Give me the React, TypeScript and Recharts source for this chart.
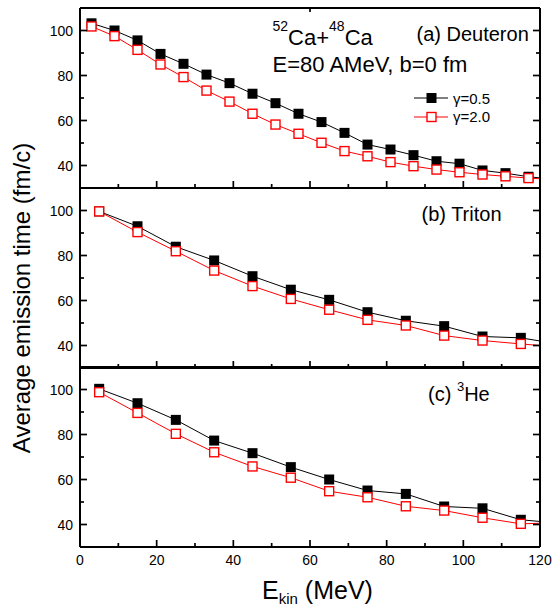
import { LineChart, Line, XAxis, YAxis, Legend } from "recharts";

// E_kin (MeV) sampling points
const xDeuteron = [3, 9, 15, 21, 27, 33, 39, 45, 51, 57, 63, 69, 75, 81, 87, 93, 99, 105, 111, 117, 123];
const xTriton = [5, 15, 25, 35, 45, 55, 65, 75, 85, 95, 105, 115, 125];
const xHelium = [5, 15, 25, 35, 45, 55, 65, 75, 85, 95, 105, 115, 125];

// average emission time (fm/c)
const deuteronG05 = [103.2, 100.0, 95.6, 89.6, 85.2, 80.4, 76.6, 71.9, 67.7, 63.0, 59.3, 54.5, 49.3, 47.1, 44.6, 41.9, 40.8, 37.8, 36.6, 35.0, 34.0];
const deuteronG20 = [101.8, 97.5, 91.4, 84.9, 79.3, 73.3, 68.4, 63.0, 58.2, 54.1, 50.1, 46.4, 44.1, 41.5, 39.7, 38.2, 37.0, 36.0, 35.2, 34.4, 33.8];
const tritonG05 = [99.6, 93.0, 83.9, 77.8, 70.8, 64.8, 60.3, 54.8, 51.0, 48.6, 44.0, 43.4, 40.6];
const tritonG20 = [99.6, 90.4, 81.9, 73.3, 66.4, 60.7, 55.9, 51.4, 48.9, 44.4, 42.2, 40.7, 39.3];
const heliumG05 = [100.3, 93.9, 86.5, 77.3, 71.7, 65.5, 60.0, 55.1, 53.6, 48.0, 47.2, 42.1, 40.6];
const heliumG20 = [98.8, 89.6, 80.3, 72.1, 65.8, 60.8, 54.8, 52.1, 48.1, 46.2, 43.0, 40.3, 40.8];

const seriesNames = ["γ=0.5", "γ=2.0"];
const xDomain = [0, 120];
const yDomain = [30, 110];
// every 10 gets a tick mark, multiples of 20 are the long labelled ones
const xTicks = [0, 10, 20, 30, 40, 50, 60, 70, 80, 90, 100, 110, 120];
const yTicks = [40, 50, 60, 70, 80, 90, 100];

const toRows = (xs: number[], a: number[], b: number[]) =>
  xs.map((x, i) => ({ x, g05: a[i], g20: b[i] }));

const AXIS = "#000";
const RED = "#ff0000";
const FONT = "'Liberation Sans', Arial, sans-serif";
const MAJOR = 7;
const MINOR = 4;
const TICK_W = 1.7;
const isMajor = (v: number) => v % 20 === 0;

const blackSquare = (p: any) => {
  if (p.cx == null || p.cy == null) return <g key={p.index} />;
  return <rect key={p.index} x={p.cx - 5} y={p.cy - 5} width={10} height={10} fill="#000" />;
};

const redSquare = (p: any) => {
  if (p.cx == null || p.cy == null) return <g key={p.index} />;
  return (
    <rect key={p.index} x={p.cx - 4.5} y={p.cy - 4.5} width={9} height={9}
      fill="#fff" stroke={RED} strokeWidth={1.4} />
  );
};

// tick renderers: inward tick marks (+ labels where wanted)
const leftTick = (p: any) => {
  const v = p.payload.value;
  const len = isMajor(v) ? MAJOR : MINOR;
  return (
    <g>
      <line x1={p.x} x2={p.x + len} y1={p.y} y2={p.y} stroke={AXIS} strokeWidth={TICK_W} />
      {isMajor(v) && (
        <text x={p.x - 7} y={p.y} dy="0.36em" textAnchor="end" fontSize={14} fill="#000">{v}</text>
      )}
    </g>
  );
};

const rightTick = (p: any) => {
  const len = isMajor(p.payload.value) ? MAJOR : MINOR;
  return <line x1={p.x} x2={p.x - len} y1={p.y} y2={p.y} stroke={AXIS} strokeWidth={TICK_W} />;
};

const topTick = (p: any) => {
  const len = isMajor(p.payload.value) ? MAJOR : MINOR;
  return <line x1={p.x} x2={p.x} y1={p.y} y2={p.y + len} stroke={AXIS} strokeWidth={TICK_W} />;
};

const bottomTick = (labels: boolean) => (p: any) => {
  const v = p.payload.value;
  const len = isMajor(v) ? MAJOR : MINOR;
  return (
    <g>
      <line x1={p.x} x2={p.x} y1={p.y} y2={p.y - len} stroke={AXIS} strokeWidth={TICK_W} />
      {labels && isMajor(v) && (
        <text x={p.x} y={p.y + 8} dy="0.72em" textAnchor="middle" fontSize={14} fill="#000">{v}</text>
      )}
    </g>
  );
};

const LegendBox = ({ payload }: any) => (
  <div style={{ fontFamily: FONT }}>
    {(payload || []).map((e: any) => {
      const hollow = e.dataKey === "g20";
      return (
        <div key={e.value} style={{ display: "flex", alignItems: "center", height: 18.4 }}>
          <svg width={36} height={12}>
            <line x1={0} y1={6} x2={34} y2={6} stroke={e.color} strokeWidth={1} />
            {hollow ? (
              <rect x={13} y={1.5} width={9} height={9} fill="#fff" stroke={RED} strokeWidth={1.4} />
            ) : (
              <rect x={12.5} y={1} width={10} height={10} fill="#000" />
            )}
          </svg>
          <span style={{ fontSize: 15, marginLeft: 3, color: "#000" }}>{e.value}</span>
        </div>
      );
    })}
  </div>
);

function Panel({
  data, top, height, plotTop, plotBottom, topTicks, xLabels, legend,
}: {
  data: { x: number; g05: number; g20: number }[];
  top: number; height: number; plotTop: number; plotBottom: number;
  topTicks: boolean; xLabels: boolean; legend?: boolean;
}) {
  const common = { type: "number" as const, allowDataOverflow: true, stroke: AXIS,
    strokeWidth: 2, tickLine: false, tickSize: 0, tickMargin: 0, interval: 0 as const };
  return (
    <div style={{ position: "absolute", left: 0, top, width: 554, height }}>
      <LineChart width={554} height={height} data={data}
        margin={{ top: plotTop - 1, right: 13, bottom: plotBottom - 1, left: 79 }}>
        <XAxis xAxisId="x" dataKey="x" {...common} domain={xDomain} ticks={xTicks}
          height={1} tick={bottomTick(xLabels)} />
        <XAxis xAxisId="xt" orientation="top" {...common} domain={xDomain} ticks={xTicks}
          height={1} tick={topTicks ? topTick : false} />
        <YAxis yAxisId="y" {...common} domain={yDomain} ticks={yTicks} width={1} tick={leftTick} />
        <YAxis yAxisId="yr" orientation="right" {...common} domain={yDomain} ticks={yTicks}
          width={1} tick={rightTick} />

        <Line xAxisId="x" yAxisId="y" dataKey="g05" name={seriesNames[0]} stroke="#000"
          strokeWidth={1} dot={blackSquare} activeDot={false} isAnimationActive={false} />
        <Line xAxisId="x" yAxisId="y" dataKey="g20" name={seriesNames[1]} stroke={RED}
          strokeWidth={1} dot={redSquare} activeDot={false} isAnimationActive={false} />
        {legend && (
          <Legend layout="vertical" align="center" verticalAlign="middle"
            content={LegendBox} wrapperStyle={{ left: 414, top: 89, width: 100 }} />
        )}
      </LineChart>
    </div>
  );
}

export default function App() {
  return (
    <div style={{ position: "absolute", left: 0, top: 0, width: 554, height: 608, background: "#fff", fontFamily: FONT }}>
      <Panel data={toRows(xDeuteron, deuteronG05, deuteronG20)} top={0} height={193}
        plotTop={8} plotBottom={5} topTicks xLabels={false} legend />
      <Panel data={toRows(xTriton, tritonG05, tritonG20)} top={183} height={190}
        plotTop={5} plotBottom={5} topTicks={false} xLabels={false} />
      <Panel data={toRows(xHelium, heliumG05, heliumG20)} top={362} height={246}
        plotTop={5} plotBottom={61} topTicks={false} xLabels />

      <svg width={554} height={608} style={{ position: "absolute", left: 0, top: 0, pointerEvents: "none" }}
        fontFamily={FONT} fill="#000">
        <text x={272.5} y={45} fontSize={22}>
          <tspan fontSize={14} dy={-14}>52</tspan>
          <tspan dy={14}>Ca+</tspan>
          <tspan fontSize={14} dy={-14}>48</tspan>
          <tspan dy={14}>Ca</tspan>
        </text>
        <text x={272.5} y={72} fontSize={22}>E=80 AMeV, b=0 fm</text>
        <text x={416.5} y={41} fontSize={20}>(a) Deuteron</text>
        <text x={421.5} y={221} fontSize={20}>(b) Triton</text>
        <text x={428} y={401} fontSize={20}>
          (c) <tspan fontSize={13} dy={-10}>3</tspan><tspan dy={10}>He</tspan>
        </text>

        <text transform="translate(30,298) rotate(-90)" textAnchor="middle" fontSize={24}>
          Average emission time (fm/c)
        </text>
        <text x={262} y={599} fontSize={25}>
          E<tspan fontSize={15} dy={5}>kin</tspan><tspan dy={-5}> (MeV)</tspan>
        </text>
      </svg>
    </div>
  );
}
